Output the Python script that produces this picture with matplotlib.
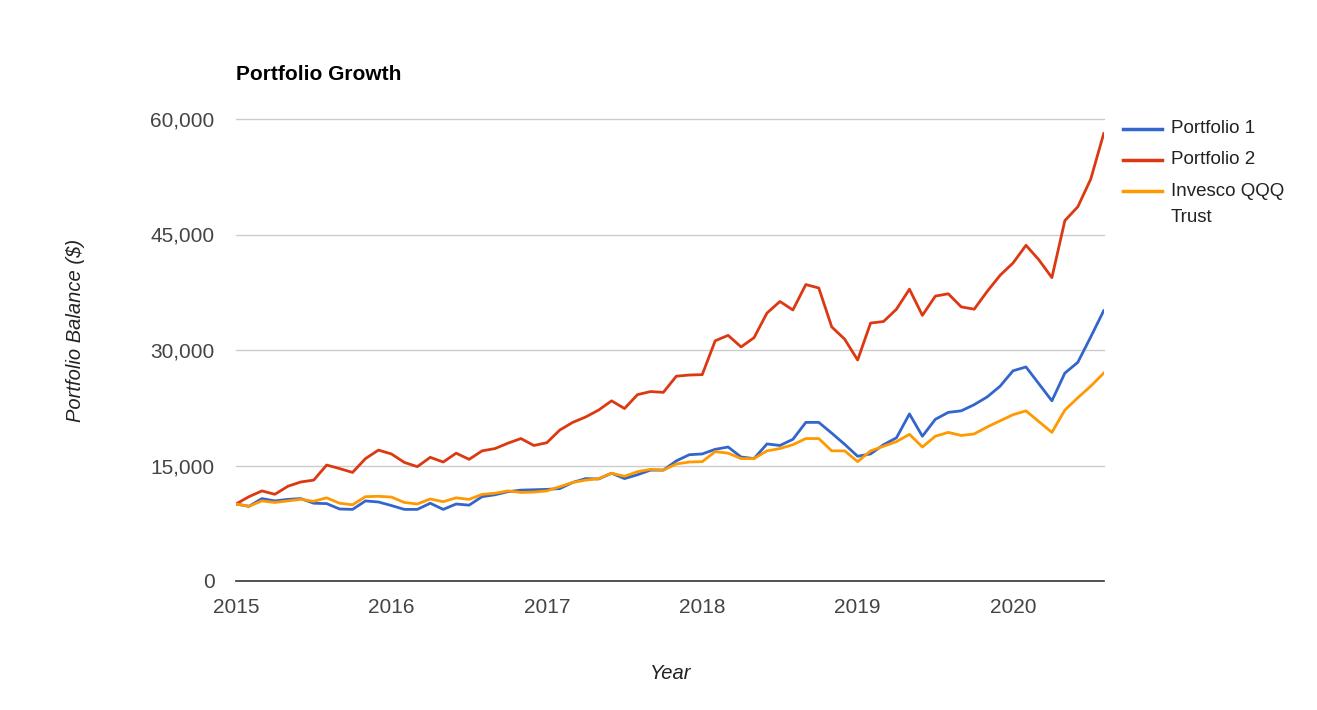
import matplotlib
matplotlib.use("Agg")
import matplotlib.pyplot as plt
from matplotlib.lines import Line2D
import numpy as np

plt.rcParams['font.family'] = ['Liberation Sans', 'DejaVu Sans']

# Monthly data, Jan 2015 .. Aug 2020
start_year = 2015
portfolio1 = [10.0, 9.7, 10.7, 10.4, 10.6, 10.7, 10.1, 10.05, 9.35, 9.3, 10.4, 10.26,
              9.8, 9.3, 9.3, 10.1, 9.3, 10.0, 9.85, 10.95, 11.2, 11.6, 11.8, 11.85,
              11.9, 12.0, 12.8, 13.3, 13.25, 14.0, 13.3, 13.8, 14.4, 14.4, 15.6, 16.4,
              16.5, 17.1, 17.4, 16.1, 15.9, 17.8, 17.6, 18.4, 20.6, 20.6, 19.2, 17.75,
              16.2, 16.5, 17.7, 18.6, 21.7, 18.8, 21.0, 21.9, 22.1, 22.9, 23.9, 25.3,
              27.3, 27.8, 25.6, 23.4, 27.0, 28.4, 31.7, 35.1]
portfolio2 = [10.0, 10.95, 11.7, 11.26, 12.3, 12.86, 13.1, 15.06, 14.6, 14.1, 15.9, 17.0,
              16.5, 15.4, 14.85, 16.06, 15.45, 16.6, 15.8, 16.9, 17.2, 17.9, 18.5, 17.6,
              17.96, 19.6, 20.6, 21.3, 22.2, 23.4, 22.4, 24.2, 24.6, 24.5, 26.6, 26.75,
              26.8, 31.2, 31.9, 30.4, 31.6, 34.8, 36.3, 35.2, 38.5, 38.05, 33.0, 31.4,
              28.7, 33.5, 33.7, 35.3, 37.9, 34.5, 37.0, 37.3, 35.6, 35.3, 37.6, 39.7,
              41.3, 43.6, 41.7, 39.4, 46.8, 48.6, 52.2, 58.1]
qqq = [10.0, 9.7, 10.4, 10.2, 10.4, 10.6, 10.35, 10.8, 10.1, 9.9, 10.95, 11.0,
       10.9, 10.2, 10.0, 10.65, 10.3, 10.8, 10.6, 11.25, 11.4, 11.7, 11.5, 11.55,
       11.7, 12.25, 12.8, 13.1, 13.3, 14.0, 13.6, 14.2, 14.5, 14.4, 15.2, 15.45,
       15.5, 16.8, 16.6, 15.9, 15.9, 16.9, 17.2, 17.7, 18.5, 18.5, 16.9, 16.9,
       15.5, 16.9, 17.5, 18.1, 19.05, 17.4, 18.8, 19.3, 18.9, 19.1, 20.0, 20.8,
       21.6, 22.1, 20.7, 19.3, 22.2, 23.8, 25.3, 27.0]
series_names = ["Portfolio 1", "Portfolio 2", "Invesco QQQ\nTrust"]
series_colors = ["#3366cc", "#dc3912", "#ff9900"]
y_ticks = [0, 15000, 30000, 45000, 60000]
x_ticks = [2015, 2016, 2017, 2018, 2019, 2020]

n = len(portfolio1)
x = start_year + np.arange(n) / 12.0

W, H = 1317, 710
fig = plt.figure(figsize=(W / 100, H / 100), dpi=100)
left, right, top, bottom = 236, 1103.7, 119, 581
ax = fig.add_axes([left / W, 1 - bottom / H, (right - left) / W, (bottom - top) / H])

for vals, name, col in zip([portfolio1, portfolio2, qqq], series_names, series_colors):
    ax.plot(x, np.array(vals) * 1000, color=col, lw=2.0, label=name,
            solid_joinstyle='round', zorder=3)

ax.set_xlim(x[0], x[-1])
ax.set_ylim(0, 60000)
for yt in y_ticks[1:]:
    ax.axhline(yt, color="#cccccc", lw=1.0, zorder=1, clip_on=False)
for s in ["top", "right", "left"]:
    ax.spines[s].set_visible(False)
ax.spines["bottom"].set_color("#333333")
ax.spines["bottom"].set_linewidth(1.2)
ax.spines["bottom"].set_zorder(4)

ax.set_yticks(y_ticks)
ax.set_yticklabels([f"{v:,}" for v in y_ticks])
ax.set_xticks(x_ticks)
ax.set_xticklabels([str(v) for v in x_ticks])
ax.tick_params(axis='both', length=0, labelsize=15, labelcolor="#444444")
ax.tick_params(axis='y', pad=15.5)
ax.tick_params(axis='x', pad=12)

ax.set_xlabel("Year", fontsize=14.5, style='italic', color="#222222")
ax.xaxis.set_label_coords(0.501, -0.18)
ax.set_ylabel("Portfolio Balance ($)", fontsize=14.5, style='italic', color="#222222")
ax.yaxis.set_label_coords(-0.174, 0.543)

fig.text(236 / W, 1 - 74 / H, "Portfolio Growth", fontsize=15, fontweight='bold',
         color="#000000", ha='left', va='center')

# Legend (right side)
leg_y0, leg_dy, line_dy = 128.5, 31.3, 26.5
for i, (name, col) in enumerate(zip(series_names, series_colors)):
    yy = leg_y0 + i * leg_dy
    fig.add_artist(Line2D([1123 / W, 1162 / W], [1 - yy / H, 1 - yy / H],
                          color=col, lw=2.5, transform=fig.transFigure))
    for k, part in enumerate(name.split("\n")):
        fig.text(1171 / W, 1 - (yy + k * line_dy) / H, part, fontsize=13.5,
                 color="#222222", ha='left', va='center')

fig.savefig("out.png", dpi=100)
